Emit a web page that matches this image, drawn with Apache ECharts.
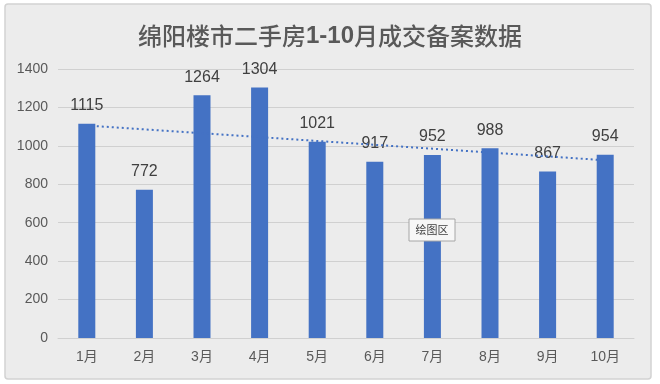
<!DOCTYPE html>
<html><head><meta charset="utf-8">
<script src="https://cdn.jsdelivr.net/npm/echarts@6/dist/echarts.min.js"></script>
<style>html,body{margin:0;padding:0;background:#fff}#c{width:660px;height:384px}</style>
</head><body><div id="c"></div>
<script>
const titleParts = ['绵阳楼市二手房', '1-10', '月成交备案数据'];
const categories = ['1月','2月','3月','4月','5月','6月','7月','8月','9月','10月'];
const values = [1115, 772, 1264, 1304, 1021, 917, 952, 988, 867, 954];
// linear trendline endpoints
const trendValues = [1106, '-', '-', '-', '-', '-', '-', '-', '-', 925];
const yMin = 0, yMax = 1400, yStep = 200;

const cjk = '"Noto Sans CJK SC", sans-serif';
const chart = echarts.init(document.getElementById('c'), null, {renderer: 'canvas'});
chart.setOption({
  backgroundColor: '#ffffff',
  animation: false,
  graphic: [
    {type: 'rect', z: -10, shape: {x: 5, y: 4, width: 646, height: 375, r: 3},
     style: {fill: '#ececec', stroke: '#d2d2d2', lineWidth: 1.5}},
    {type: 'rect', z: 100, shape: {x: 409, y: 219, width: 46, height: 22},
     style: {fill: '#f7f7f7', stroke: '#a6a6a6', lineWidth: 1}},
    {type: 'text', z: 101, x: 432, y: 230, style: {text: '绘图区', fill: '#404040',
      fontSize: 11, fontFamily: cjk, textAlign: 'center', textVerticalAlign: 'middle'}}
  ],
  title: {
    text: '{a|' + titleParts[0] + '}{b|' + titleParts[1] + '}{a|' + titleParts[2] + '}',
    left: 'center', top: 19,
    textStyle: {
      fontSize: 24, color: '#595959', fontFamily: cjk,
      rich: {
        a: {fontSize: 24, fontWeight: 500, color: '#595959', fontFamily: cjk},
        b: {fontSize: 24, fontWeight: 'bold', color: '#595959', fontFamily: '"Liberation Sans", sans-serif'}
      }
    }
  },
  grid: {left: 58, right: 26, top: 69, bottom: 46, containLabel: false},
  xAxis: {
    type: 'category', data: categories,
    axisLine: {lineStyle: {color: '#d0d0d0', width: 1}},
    axisTick: {show: false},
    axisLabel: {color: '#595959', fontSize: 14, margin: 12, fontFamily: '"Liberation Sans", "Noto Sans CJK SC", sans-serif'}
  },
  yAxis: {
    type: 'value', min: yMin, max: yMax, interval: yStep,
    axisLine: {show: false}, axisTick: {show: false},
    splitLine: {lineStyle: {color: '#d0d0d0', width: 1}},
    axisLabel: {color: '#595959', fontSize: 14, margin: 10, formatter: v => String(v),
      fontFamily: '"Liberation Sans", sans-serif'}
  },
  series: [
    {
      type: 'bar', data: values, barWidth: 17,
      itemStyle: {color: '#4472C4'},
      label: {show: true, position: 'top', distance: 10, color: '#404040', fontSize: 16,
        fontFamily: '"Liberation Sans", sans-serif'}
    },
    {
      type: 'line', data: trendValues, connectNulls: true, symbol: 'none', z: 5,
      lineStyle: {color: '#4472C4', width: 2, type: [2, 3]}
    }
  ]
});
</script></body></html>
